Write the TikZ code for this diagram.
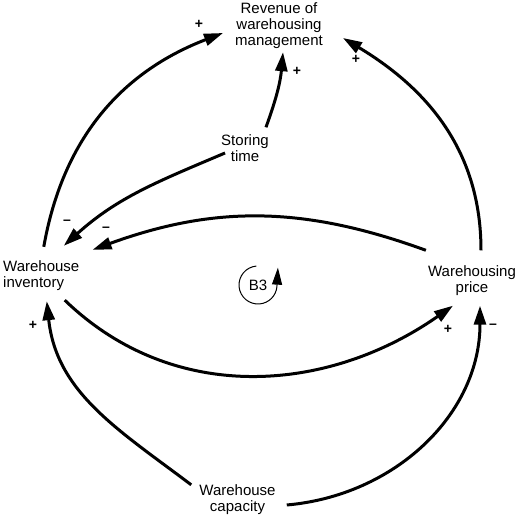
\documentclass[tikz,border=0pt]{standalone}
\usepackage{fontspec}
\setmainfont{Liberation Sans}
\usetikzlibrary{arrows.meta}

\begin{document}
\begin{tikzpicture}[x=10pt,y=10pt,
    var/.style={inner sep=0pt,align=center,font=\fontsize{15}{16}\selectfont},
    link/.style={line width=3pt,-{Triangle[length=19pt,width=12pt]}},
    sign/.style={inner sep=0pt,font=\fontsize{14}{14}\selectfont\bfseries}]
\useasboundingbox (0,0) rectangle (52,51.6);
\node[var] (rev) at (27.9,49.0) {Revenue of\\warehousing\\management};
\node[var] (stor) at (24.5,36.8) {Storing\\time};
\node[var,align=left,anchor=west] (inv) at (0.3,24.0) {Warehouse\\inventory};
\node[var] (price) at (47.2,23.55) {Warehousing\\price};
\node[var] (cap) at (23.75,1.6) {Warehouse\\capacity};
\node[var] (b3) at (25.8,23.1) {B3};
\draw[line width=1pt,-{Triangle[length=17pt,width=10pt]}] (b3) ++(95:1.9) arc (95:355:1.9) -- ++(0.1,1.9);
\draw[link] ([xshift=2.5pt,yshift=14pt]inv.north) to[out=80,in=201] ([xshift=-12pt,yshift=-7pt]rev.west);
\draw[link] ([xshift=9pt,yshift=15pt]price.north) to[out=90,in=329] ([xshift=20pt,yshift=-12pt]rev.east);
\draw[link] ([xshift=-3pt,yshift=7pt]stor.north east) to[out=70,in=265] ([xshift=4pt,yshift=-3pt]rev.south);
\draw[link] ([xshift=4pt,yshift=-5pt]stor.west) to[out=203,in=42] ([xshift=22.5pt,yshift=15pt]inv.north);
\draw[link] ([xshift=-2pt,yshift=15pt]price.north west) to[out=160,in=20] ([xshift=13pt,yshift=11pt]inv.north east);
\draw[link] ([xshift=23.5pt,yshift=-9pt]inv.south) to[out=-44,in=215] ([xshift=-19pt,yshift=-10pt]price.south);
\draw[link] ([xshift=-8pt]cap.north west) to[out=143,in=276] ([xshift=5.5pt,yshift=-10pt]inv.south);
\draw[link] ([xshift=11pt,yshift=-5pt]cap.east) to[out=5,in=270] ([xshift=8pt,yshift=-10pt]price.south);
\node[sign] (s1) at (19.9,49.2) {+};
\node[sign] (s2) at (35.6,45.7) {+};
\node[sign] (s3) at (29.7,44.5) {+};
\node[sign] (s4) at (6.7,29.4) {\textendash};
\node[sign] (s5) at (10.6,28.7) {\textendash};
\node[sign] (s6) at (44.8,18.7) {+};
\node[sign] (s7) at (49.3,19.0) {\textendash};
\node[sign] (s8) at (3.3,19.1) {+};
\end{tikzpicture}
\end{document}
